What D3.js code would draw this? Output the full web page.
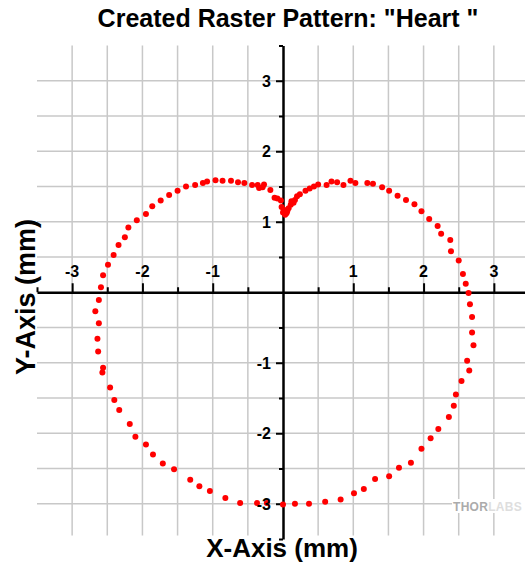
<!DOCTYPE html>
<html>
<head>
	<meta charset="utf-8">
	<script src="https://cdnjs.cloudflare.com/ajax/libs/d3/7.8.5/d3.min.js"></script>
	<style>
	body {
		margin: 0;
		background: #fff;
	}

	svg text {
		font-family: Arial, "Liberation Sans", sans-serif;
		font-weight: bold;
		fill: #000;
	}

	.grid line {
		stroke: #c8c8c8;
		stroke-width: 1.5px;
	}

	.axis path,
	.axis line {
		stroke: #000;
		stroke-width: 2px;
	}

	.tick-label {
		font-size: 16px;
	}
</style>
</head>
<body>
	<svg width="525" height="565"></svg>
	<script>
	//scan points (mm)
	let heartX = [
		0.00, -0.23, -0.37, -0.61, -0.82, -1.04, -1.19, -1.32, -1.55, -1.71,
		-1.85, -1.95, -2.10, -2.18, -2.33, -2.40, -2.46, -2.57, -2.56, -2.63,
		-2.64, -2.62, -2.67, -2.62, -2.59, -2.56, -2.49, -2.41, -2.34, -2.25,
		-2.20, -2.08, -1.95, -1.86, -1.74, -1.62, -1.50, -1.38, -1.25, -1.14,
		-1.08, -0.96, -0.86, -0.74, -0.64, -0.55, -0.44, -0.36, -0.34, -0.27,
		-0.29, -0.18, -0.12, -0.08, -0.03, -0.02, 0.00, 0.01, 0.02, 0.03,
		0.05, 0.06, 0.08, 0.11, 0.12, 0.15, 0.17, 0.20, 0.24, 0.32,
		0.38, 0.44, 0.50, 0.62, 0.69, 0.77, 0.86, 0.96, 1.03, 1.20,
		1.28, 1.41, 1.51, 1.63, 1.75, 1.87, 1.97, 2.08, 2.20, 2.25,
		2.38, 2.39, 2.50, 2.56, 2.60, 2.64, 2.66, 2.69, 2.69, 2.71,
		2.62, 2.65, 2.54, 2.46, 2.43, 2.36, 2.21, 2.10, 1.97, 1.82,
		1.65, 1.51, 1.31, 1.15, 1.01, 0.82, 0.60, 0.37, 0.17
	];
	let heartY = [
		-3.01, -2.99, -2.99, -2.99, -2.92, -2.82, -2.75, -2.66, -2.51, -2.43,
		-2.30, -2.16, -2.05, -1.87, -1.67, -1.53, -1.35, -1.14, -1.07, -0.84,
		-0.66, -0.44, -0.27, -0.11, 0.07, 0.24, 0.39, 0.53, 0.67, 0.78,
		0.92, 1.02, 1.11, 1.22, 1.30, 1.38, 1.44, 1.50, 1.52, 1.55,
		1.57, 1.59, 1.58, 1.58, 1.56, 1.55, 1.52, 1.52, 1.48, 1.53,
		1.49, 1.45, 1.34, 1.33, 1.30, 1.21, 1.13, 1.17, 1.16, 1.10,
		1.12, 1.15, 1.19, 1.24, 1.29, 1.27, 1.31, 1.36, 1.39, 1.44,
		1.47, 1.50, 1.53, 1.52, 1.57, 1.56, 1.52, 1.58, 1.55, 1.55,
		1.54, 1.49, 1.44, 1.37, 1.31, 1.25, 1.15, 1.04, 0.94, 0.83,
		0.74, 0.58, 0.45, 0.26, 0.12, -0.01, -0.17, -0.35, -0.57, -0.75,
		-0.97, -1.11, -1.26, -1.45, -1.61, -1.77, -1.94, -2.07, -2.22, -2.42,
		-2.49, -2.61, -2.65, -2.79, -2.85, -2.94, -2.97, -3.00, -3.00
	];

	//tick values and labels
	let majorTicks = [-3, -2, -1, 1, 2, 3];
	let tickLabels = ["-3", "-2", "-1", "1", "2", "3"];
	let minorTicks = [-3.5, -2.5, -1.5, -0.5, 0.5, 1.5, 2.5, 3.5];
	let gridValues = [-3, -2.5, -2, -1.5, -1, -0.5, 0.5, 1, 1.5, 2, 2.5, 3];

	let svg = d3.select("svg");

	//scales
	let x = d3.scaleLinear().domain([-3.5, 3.5]).range([37, 529]),
		y = d3.scaleLinear().domain([-3.5, 3.5]).range([539, 45.5]);

	//grid
	let grid = svg.append("g").attr("class", "grid");
	grid.selectAll(".gx")
		.data(gridValues)
		.enter()
		.append("line")
		.attr("x1", function(d) { return x(d); })
		.attr("x2", function(d) { return x(d); })
		.attr("y1", y(3.5))
		.attr("y2", y(-3.45));
	grid.selectAll(".gy")
		.data(gridValues)
		.enter()
		.append("line")
		.attr("x1", x(-3.5))
		.attr("x2", x(3.5))
		.attr("y1", function(d) { return y(d); })
		.attr("y2", function(d) { return y(d); });

	//logo
	let logo = svg.append("g").attr("class", "logo");
	logo.append("rect")
		.attr("x", 452)
		.attr("y", 499)
		.attr("width", 73)
		.attr("height", 14)
		.attr("fill", "#fff");
	let logoText = logo.append("text")
		.attr("x", 453)
		.attr("y", 511)
		.style("font-size", "12px")
		.style("letter-spacing", "0.3px");
	logoText.append("tspan").style("fill", "#ababab").text("THOR");
	logoText.append("tspan").style("fill", "#dedede").text("LABS");

	//x axis, ticks pointing up
	let xAxis = svg.append("g")
		.attr("class", "axis axis-x")
		.attr("transform", "translate(0," + y(0) + ")");
	xAxis.call(d3.axisTop(x).tickValues(minorTicks).tickSize(5).tickSizeOuter(0).tickFormat(""));
	xAxis.append("g")
		.call(d3.axisTop(x).tickValues(majorTicks).tickSize(9).tickSizeOuter(0).tickFormat(""))
		.select(".domain").remove();

	//y axis, ticks pointing left
	let yAxis = svg.append("g")
		.attr("class", "axis axis-y")
		.attr("transform", "translate(" + x(0) + ",0)");
	yAxis.call(d3.axisLeft(y).tickValues(minorTicks).tickSize(4).tickSizeOuter(0).tickFormat(""));
	yAxis.append("g")
		.call(d3.axisLeft(y).tickValues(majorTicks).tickSize(7).tickSizeOuter(0).tickFormat(""))
		.select(".domain").remove();
	svg.selectAll(".axis .domain").style("stroke-width", "2.5px");

	//scan points, drawn over the axis lines
	let points = d3.range(heartX.length).map(function(i) { return {x: heartX[i], y: heartY[i]}; });
	svg.append("g")
		.attr("class", "points")
		.selectAll("circle")
		.data(points)
		.enter()
		.append("circle")
		.attr("cx", function(d) { return x(d.x); })
		.attr("cy", function(d) { return y(d.y); })
		.attr("r", 3)
		.attr("fill", "#ff0000");

	//tick labels on top
	svg.append("g")
		.selectAll("text")
		.data(majorTicks)
		.enter()
		.append("text")
		.attr("class", "tick-label")
		.attr("x", function(d) { return x(d); })
		.attr("y", y(0) - 15)
		.attr("text-anchor", "middle")
		.text(function(d, i) { return tickLabels[i]; });
	svg.append("g")
		.selectAll("text")
		.data(majorTicks)
		.enter()
		.append("text")
		.attr("class", "tick-label")
		.attr("x", x(0) - 12)
		.attr("y", function(d) { return y(d); })
		.attr("dy", "0.36em")
		.attr("text-anchor", "end")
		.text(function(d, i) { return tickLabels[i]; });

	//titles
	svg.append("text")
		.attr("x", 288)
		.attr("y", 27)
		.attr("text-anchor", "middle")
		.style("font-size", "25px")
		.text("Created Raster Pattern: \"Heart \"");
	svg.append("text")
		.attr("x", 282)
		.attr("y", 557)
		.attr("text-anchor", "middle")
		.style("font-size", "26px")
		.text("X-Axis (mm)");
	svg.append("text")
		.attr("transform", "translate(35,297) rotate(-90)")
		.attr("text-anchor", "middle")
		.style("font-size", "27px")
		.text("Y-Axis (mm)");

	</script>
</body>
</html>
